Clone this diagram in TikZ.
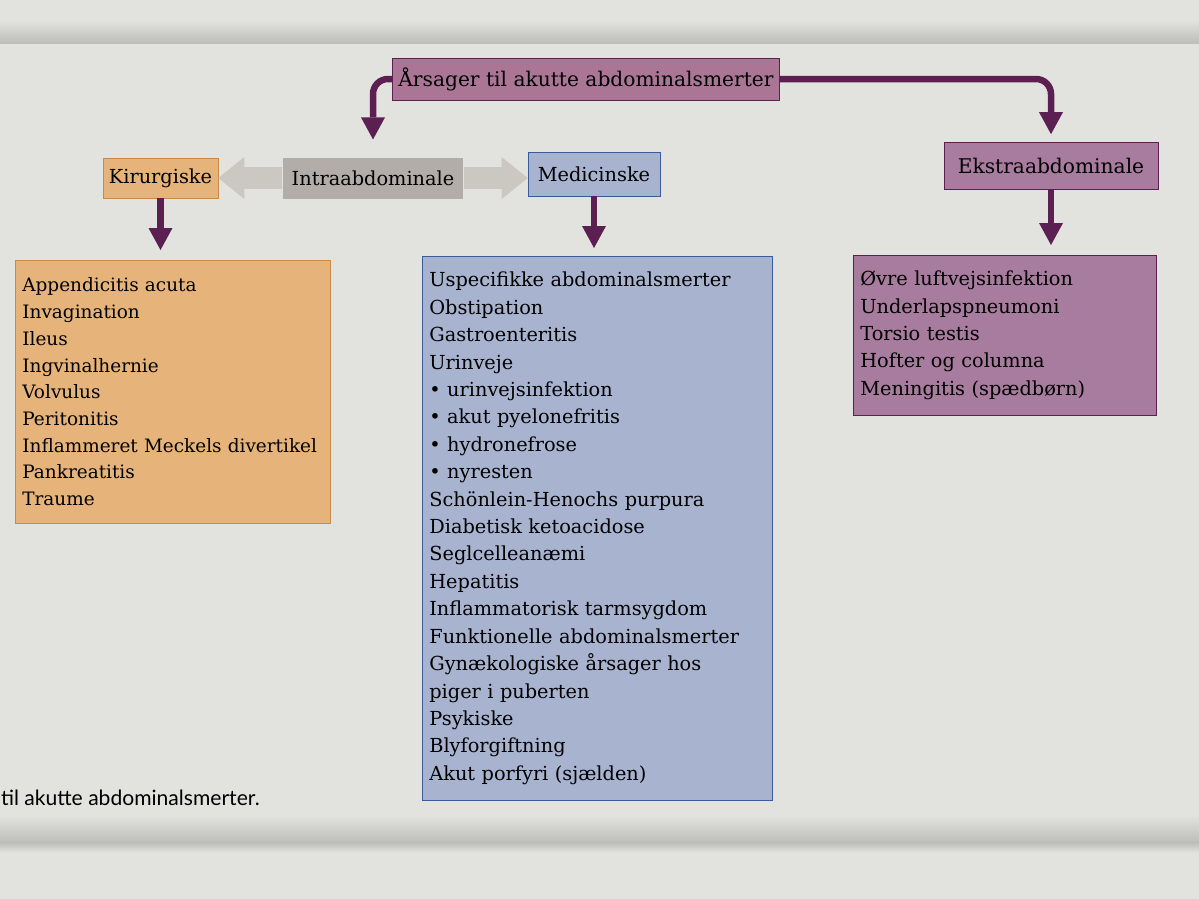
\documentclass[tikz,border=0pt]{standalone}
\usepackage{fontspec}
\setmainfont{DejaVu Serif}
\newfontfamily\capfont{Lato}
\usetikzlibrary{arrows.meta,calc}
\definecolor{side}{HTML}{E2E2DE}
\definecolor{skygge}{HTML}{BDBDB9}
\definecolor{lilla}{HTML}{5C1F52}
\definecolor{lillafyld}{HTML}{A77C9E}
\definecolor{orangefyld}{HTML}{E6B47A}
\definecolor{orangekant}{HTML}{C98A46}
\definecolor{blaafyld}{HTML}{A8B3CF}
\definecolor{blaakant}{HTML}{3A5A9A}
\definecolor{graa}{HTML}{B2ADA9}
\definecolor{graapil}{HTML}{CBC7C1}

\begin{document}
\begin{tikzpicture}[very thick,>={Triangle[width=0.48cm,length=0.44cm,line width=0pt]},
overskrift/.style ={rectangle, draw=lilla, thin, fill=lillafyld!95!red, minimum width=7.58cm, minimum height=0.84cm, font=\fontsize{11.5}{14}\selectfont},
kir/.style ={rectangle, draw=orangekant, thin, fill=orangefyld, minimum width=2.22cm, minimum height=0.8cm, font=\fontsize{11}{14}\selectfont},
med/.style ={rectangle, draw=blaakant, thin, fill=blaafyld, minimum width=2.64cm, minimum height=0.88cm, font=\fontsize{11}{14}\selectfont},
ekstra/.style ={rectangle, draw=lilla, thin, fill=lillafyld, minimum width=4.28cm, minimum height=0.94cm, font=\fontsize{11.5}{14}\selectfont},
intra/.style ={rectangle, fill=graa, minimum width=3.6cm, minimum height=0.82cm, font=\fontsize{11}{14}\selectfont},
liste/.style ={rectangle, thin, anchor=north west, inner xsep=0.14cm, align=left, font=\fontsize{11}{15.6}\selectfont},
pil/.style ={draw=lilla, line width=0.13cm, ->},
tykpil/.style ={draw=graapil, line width=0.44cm, -{Triangle[width=0.84cm,length=0.52cm,line width=0pt]}}
]
\useasboundingbox (0,0) rectangle (23.98,-17.98);
\fill[side] (0,0) rectangle (23.98,-17.98);
\shade[top color=side, bottom color=skygge] (0,-0.4) rectangle (23.98,-0.86);
\shade[top color=side, bottom color=skygge] (0,-16.3) rectangle (23.98,-16.85);
\shade[top color=skygge, bottom color=side] (0,-16.85) rectangle (23.98,-17.05);

\draw (11.72,-1.58) node[overskrift] (T) {Årsager til akutte abdominalsmerter};
\draw (3.21,-3.56) node[kir] (K) {Kirurgiske};
\draw (7.46,-3.56) node[intra] (I) {Intraabdominale};
\draw (11.88,-3.48) node[med] (M) {Medicinske};
\draw (21.02,-3.32) node[ekstra] (E) {Ekstraabdominale};

\draw (0.3,-5.2) node[liste, draw=orangekant, fill=orangefyld, text width=6.02cm, minimum height=5.26cm, font=\fontsize{10.5}{15.2}\selectfont] (KL)
{Appendicitis acuta\\ Invagination\\ Ileus\\ Ingvinalhernie\\ Volvulus\\ Peritonitis\\
\mbox{Inflammeret Meckels divertikel}\\ Pankreatitis\\ Traume};
\draw (8.44,-5.12) node[liste, draw=blaakant, fill=blaafyld, text width=6.72cm, minimum height=10.88cm] (ML)
{Uspecifikke abdominalsmerter\\ Obstipation\\ Gastroenteritis\\ Urinveje\\
\textbullet\ urinvejsinfektion\\ \textbullet\ akut pyelonefritis\\ \textbullet\ hydronefrose\\ \textbullet\ nyresten\\
Schönlein-Henochs purpura\\ Diabetisk ketoacidose\\ Seglcelleanæmi\\ Hepatitis\\
Inflammatorisk tarmsygdom\\ Funktionelle abdominalsmerter\\ Gynækologiske årsager hos\\ piger i puberten\\
Psykiske\\ Blyforgiftning\\ Akut porfyri (sjælden)};
\draw (17.06,-5.1) node[liste, draw=lilla, fill=lillafyld, text width=5.78cm, minimum height=3.2cm] (EL)
{Øvre luftvejsinfektion\\ Underlapspneumoni\\ Torsio testis\\ Hofter og columna\\ Meningitis (spædbørn)};

\draw (0,-15.96) node[anchor=west, inner xsep=0pt, font=\capfont\fontsize{12}{14}\selectfont] (C) {til akutte abdominalsmerter.};

\draw[pil, rounded corners=0.3cm, shorten >=0.34cm] (T.west) -| (I.north);
\draw[pil, rounded corners=0.3cm, shorten >=0.16cm] (T.east) -| (E.north);
\draw[tykpil] (I.west) -- (K.east);
\draw[tykpil] (I.east) -- (I.east -| M.west);
\draw[pil, shorten >=0.2cm] (K.south) -- (K.south |- KL.north);
\draw[pil, shorten >=0.16cm] (M.south) -- (M.south |- ML.north);
\draw[pil, shorten >=0.2cm] (E.south) -- (E.south |- EL.north);

\end{tikzpicture}
\end{document}
